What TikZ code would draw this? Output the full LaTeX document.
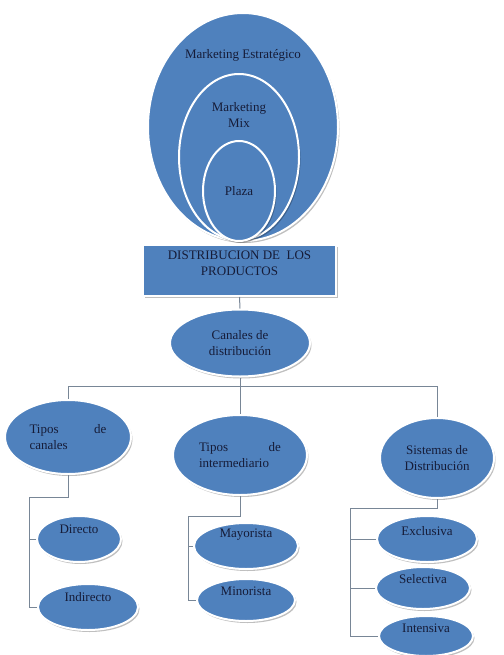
\documentclass[tikz,border=0pt]{standalone}
\usepackage{fontspec}
\setmainfont{Liberation Serif}
\usepackage{xcolor}
\definecolor{boxblue}{RGB}{79,129,189}
\definecolor{inkblue}{RGB}{22,28,56}
\definecolor{linegray}{RGB}{120,134,150}
\usepackage{tikz}
\usetikzlibrary{shapes.geometric, shadows}

\begin{document}
\begin{tikzpicture}[x=1pt, y=-1pt,
  blob/.style={ellipse, draw=white, line width=2pt, fill=boxblue, inner sep=0pt,
    drop shadow={shadow xshift=1.5pt, shadow yshift=-2pt, fill=black, opacity=0.25},
    font=\fontsize{13}{16}\selectfont, text=inkblue, align=center},
  slab/.style={rectangle, draw=white, line width=2pt, fill=boxblue, inner sep=0pt,
    drop shadow={shadow xshift=1.5pt, shadow yshift=-2pt, fill=black, opacity=0.25}},
  conn/.style={draw=linegray, line width=1pt},
  every label/.style={font=\fontsize{13}{16}\selectfont, text=inkblue, align=center}]
  \useasboundingbox (0,0) rectangle (503,655);
  % marketing circles
  \node[blob, minimum width=190pt, minimum height=228pt,
    label={[yshift=72pt]center:Marketing Estratégico}] (mest) at (243,127) {};
  \node[blob, minimum width=120pt, minimum height=166pt,
    label={[yshift=42pt]center:Marketing\\Mix}] (mmix) at (239,157) {};
  \node[blob, minimum width=72pt, minimum height=100pt] (plaza) at (239,191) {Plaza};
  \node[slab, minimum width=193pt, minimum height=51pt,
    label={[yshift=7pt]center:DISTRIBUCION DE\ \ LOS\\PRODUCTOS}] (dist) at (239.5,270.5) {};
  % channels
  \node[blob, minimum width=140pt, minimum height=67pt] (can) at (240,343) {Canales de\\distribución};
  \node[blob, minimum width=126pt, minimum height=74pt, text width=77pt, align=left] (tipc) at (68,437)
    {Tipos \hfill de\\canales};
  \node[blob, minimum width=134pt, minimum height=80pt, text width=82pt, align=left] (tint) at (240,455)
    {Tipos \hfill de\\intermediario};
  \node[blob, minimum width=114pt, minimum height=80pt] (tsis) at (437,458) {Sistemas de\\Distribución};
  % leaves
  \node[blob, minimum width=84pt, minimum height=46pt, label={[yshift=10pt]center:Directo}] (dir) at (79,539) {};
  \node[blob, minimum width=100pt, minimum height=46pt, label={[yshift=10pt]center:Indirecto}] (ind) at (88,607) {};
  \node[blob, minimum width=104pt, minimum height=46pt, label={[yshift=11pt]center:Mayorista}] (mayo) at (246,546) {};
  \node[blob, minimum width=98pt, minimum height=42pt, label={[yshift=9pt]center:Minorista}] (mino) at (246,600) {};
  \node[blob, minimum width=100pt, minimum height=46pt, label={[yshift=8pt]center:Exclusiva}] (excl) at (427,539) {};
  \node[blob, minimum width=94pt, minimum height=42pt, label={[yshift=9pt]center:Selectiva}] (sele) at (423,588) {};
  \node[blob, minimum width=94pt, minimum height=40pt, label={[yshift=8pt]center:Intensiva}] (inte) at (426,636) {};
  % connectors
  \coordinate (bus) at (240,386);
  \coordinate (rc) at (29,497);
  \coordinate (ri) at (188,516);
  \coordinate (rs) at (350,508);
  \draw[conn] (dist.south) -- (can.north);
  \draw[conn] (can.south) -- (bus) -| (tipc.north);
  \draw[conn] (bus) -| (tsis.north);
  \draw[conn] (bus) -- (tint.north);
  \draw[conn] (tipc.south) |- (rc) |- (ind.west);
  \draw[conn] (dir.west -| rc) -- (dir.west);
  \draw[conn] (tint.south) |- (ri) |- (mino.west);
  \draw[conn] (mayo.west -| ri) -- (mayo.west);
  \draw[conn] (tsis.south) |- (rs) |- (inte.west);
  \draw[conn] (excl.west -| rs) -- (excl.west);
  \draw[conn] (sele.west -| rs) -- (sele.west);
\end{tikzpicture}
\end{document}
